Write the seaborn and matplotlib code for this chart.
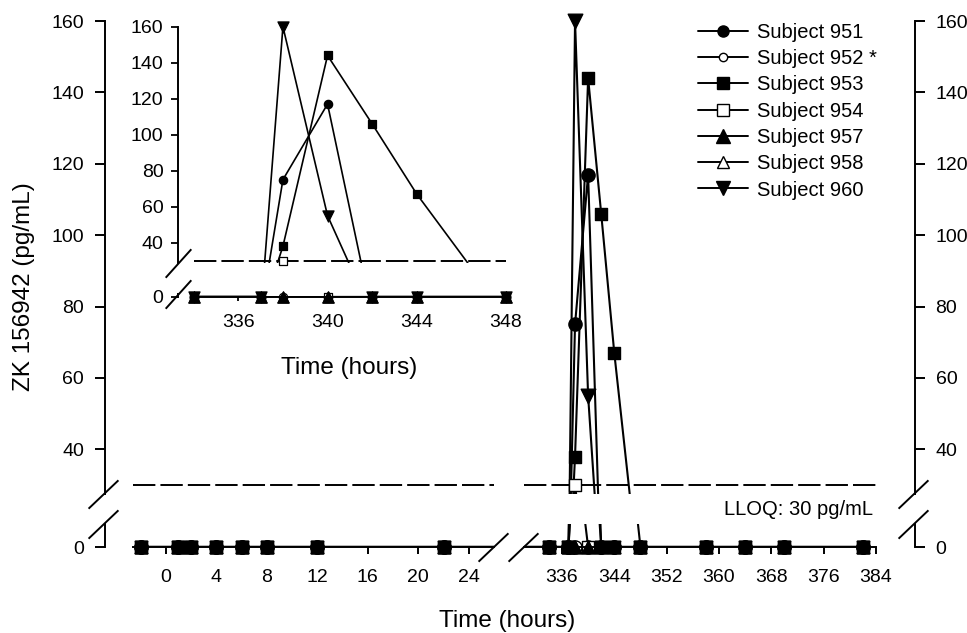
import numpy as np
import pandas as pd
import matplotlib
matplotlib.use("Agg")
import matplotlib.pyplot as plt
from matplotlib.lines import Line2D
from matplotlib.transforms import ScaledTranslation
import seaborn as sns

# --- Data ---
SUBJECTS = ["951", "952", "953", "954", "957", "958", "960"]
LABELS = ["Subject 951", "Subject 952 *", "Subject 953", "Subject 954",
          "Subject 957", "Subject 958", "Subject 960"]

TIME_P1 = [-2, 1, 2, 4, 6, 8, 12, 22]
TIME_P2 = [334, 337, 338, 340, 342, 344, 348, 358, 364, 370, 382]

# period 1: nothing above zero for anyone
CONC_P1 = [0, 0, 0, 0, 0, 0, 0, 0]
# period 2, one list per subject
CONC_951 = [0, 0, 75, 117, 0, 0, 0, 0, 0, 0, 0]
CONC_952 = [0, 0, 0, 0, 0, 0, 0, 0, 0, 0, 0]
CONC_953 = [0, 0, 38, 144, 106, 67, 0, 0, 0, 0, 0]
CONC_954 = [0, 0, 30, 0, 0, 0, 0, 0, 0, 0, 0]
CONC_957 = [0, 0, 0, 0, 0, 0, 0, 0, 0, 0, 0]
CONC_958 = [0, 0, 0, 0, 0, 0, 0, 0, 0, 0, 0]
CONC_960 = [0, 0, 160, 55, 0, 0, 0, 0, 0, 0, 0]

LLOQ = 30

P2 = dict(zip(SUBJECTS, [CONC_951, CONC_952, CONC_953, CONC_954,
                         CONC_957, CONC_958, CONC_960]))

rows = []
for s in SUBJECTS:
    for t, c in zip(TIME_P1 + TIME_P2, CONC_P1 + P2[s]):
        rows.append((s, t, c))
df = pd.DataFrame(rows, columns=["subject", "time", "conc"])

# marker shape / face per subject
MARKER = {"951": "o", "952": "o", "953": "s", "954": "s",
          "957": "^", "958": "^", "960": "v"}
FACE = {"951": "black", "952": "white", "953": "black", "954": "white",
        "957": "black", "958": "white", "960": "black"}

# --- Style ---
sns.set_style("ticks")
plt.rcParams["font.family"] = ["Liberation Sans", "DejaVu Sans"]
plt.rcParams.update({"text.color": "black", "axes.labelcolor": "black",
                     "xtick.color": "black", "ytick.color": "black",
                     "axes.edgecolor": "black"})
TICK_FS = 14
LEG_FS = 14.5
LAB_FS = 17.5

W, H = 967, 633
fig = plt.figure(figsize=(W / 100, H / 100), dpi=100)


def box(x0, y0, x1, y1):
    """pixel box (top-left origin) -> figure fraction rect"""
    return [x0 / W, 1 - y1 / H, (x1 - x0) / W, (y1 - y0) / H]


ax_lu = fig.add_axes(box(133, 21, 494, 494))
ax_ll = fig.add_axes(box(133, 524, 494, 547))
ax_ru = fig.add_axes(box(524, 21, 876, 494))
ax_rl = fig.add_axes(box(524, 524, 876, 547))
ax_iu = fig.add_axes(box(193.7, 26.7, 506, 263))
ax_il = fig.add_axes(box(193.7, 293.8, 506, 296.7))

MAIN_SIZE = {"o": 9.5, "s": 9.0, "^": 9.5, "v": 10.5}
ZERO_SIZE = {"o": 9.5, "s": 9.0, "^": 9.0, "v": 9.0}
INSET_SIZE = {"o": 6.0, "s": 6.0, "^": 8.0, "v": 8.0}


def draw_panel(ax, xlim, ylim, sizes, lw, mew):
    ax.set_facecolor("none")
    for s in SUBJECTS:
        d = df[df["subject"] == s].sort_values("time")
        sns.lineplot(x=d["time"].values, y=d["conc"].values, ax=ax,
                     color="black", linewidth=lw, estimator=None,
                     sort=False, legend=False, zorder=2)
    # markers on top, open ones first so the filled ones win on overlap
    for filled in (False, True):
        for s in SUBJECTS:
            if (FACE[s] == "black") != filled:
                continue
            d = df[df["subject"] == s]
            m = d[(d["conc"] >= ylim[0]) & (d["conc"] <= ylim[1]) &
                  (d["time"] >= xlim[0]) & (d["time"] <= xlim[1])]
            if m.empty:
                continue
            sns.scatterplot(x=m["time"].values, y=m["conc"].values, ax=ax,
                            marker=MARKER[s], s=sizes[MARKER[s]] ** 2,
                            color=FACE[s], edgecolor="black", linewidth=mew,
                            clip_on=False, zorder=4 if filled else 3,
                            legend=False)
    ax.set_xlim(xlim)
    ax.set_ylim(ylim)
    ax.set_xlabel("")
    ax.set_ylabel("")
    for sp in ax.spines.values():
        sp.set_linewidth(1.4)
        sp.set_zorder(5)


# main chart
draw_panel(ax_lu, (-2.6, 26.0), (27.5, 160), MAIN_SIZE, 1.5, 1.0)
draw_panel(ax_ll, (-2.6, 26.0), (0, 6.4), ZERO_SIZE, 1.5, 1.0)
draw_panel(ax_ru, (330.2, 384), (27.5, 160), MAIN_SIZE, 1.5, 1.0)
draw_panel(ax_rl, (330.2, 384), (0, 6.4), ZERO_SIZE, 1.5, 1.0)
# inset
draw_panel(ax_iu, (334, 348), (28.7, 160), INSET_SIZE, 1.2, 0.9)
draw_panel(ax_il, (334, 348), (0, 1.6), INSET_SIZE, 1.2, 0.9)

# LLOQ dashed line
for ax in (ax_lu, ax_ru, ax_iu):
    ax.axhline(LLOQ, color="black", lw=1.4, dashes=(11.5, 2.6), zorder=1)

ax_ru.annotate("LLOQ: 30 pg/mL", xy=(384, LLOQ), xytext=(-2, -17.3),
               textcoords="offset points", ha="right", va="center",
               fontsize=LEG_FS)

# --- axes cosmetics ---
Y_TICKS = np.arange(40, 161, 20)
LEFT_OFF = 28 * 0.72
RIGHT_OFF = 38.7 * 0.72
INSET_OFF = 16.2 * 0.72

for ax in (ax_lu, ax_ll, ax_iu, ax_il):
    ax.spines["right"].set_visible(False)
    ax.spines["top"].set_visible(False)
for ax in (ax_ru, ax_rl):
    ax.spines["left"].set_visible(False)
    ax.spines["top"].set_visible(False)
    ax.yaxis.tick_right()
for ax in (ax_lu, ax_ru, ax_iu):
    ax.spines["bottom"].set_visible(False)
    ax.tick_params(axis="x", bottom=False, labelbottom=False)
    ax.set_yticks(Y_TICKS)
for ax in (ax_ll, ax_rl, ax_il):
    ax.set_yticks([0])

for ax in (ax_lu, ax_ll):
    ax.spines["left"].set_position(("outward", LEFT_OFF))
for ax in (ax_ru, ax_rl):
    ax.spines["right"].set_position(("outward", RIGHT_OFF))
for ax in (ax_iu, ax_il):
    ax.spines["left"].set_position(("outward", INSET_OFF))

ax_ll.set_xticks(np.arange(0, 25, 4))
ax_rl.set_xticks(np.arange(336, 385, 8))
ax_il.set_xticks([336, 340, 344, 348])

for ax in (ax_lu, ax_ll, ax_ru, ax_rl):
    ax.tick_params(axis="y", direction="out", length=7, width=1.4,
                   pad=8, labelsize=TICK_FS)
    ax.tick_params(axis="x", direction="out", length=5, width=1.4,
                   pad=10.5, labelsize=TICK_FS)
for ax in (ax_iu, ax_il):
    ax.tick_params(axis="y", direction="out", length=5, width=1.3,
                   pad=5, labelsize=TICK_FS)
    ax.tick_params(axis="x", direction="out", length=3, width=1.3,
                   pad=9.5, labelsize=TICK_FS)


# --- axis-break marks ---
def brk(ax, xa, ya, dx_px, ms, w=1.0, h=0.95):
    tr = ax.transAxes + ScaledTranslation(dx_px / fig.dpi, 0,
                                          fig.dpi_scale_trans)
    ax.plot([xa], [ya], transform=tr, marker=[(-w, -h), (w, h)],
            markersize=ms, mec="black", mew=1.4, ls="none",
            clip_on=False, zorder=6)


brk(ax_lu, 0, 0, -30, 21.5)
brk(ax_ll, 0, 1, -30, 21.5)
brk(ax_ru, 1, 0, 37, 21.5)
brk(ax_rl, 1, 1, 37, 21.5)
brk(ax_ll, 1, 0, -1, 21.5)
brk(ax_rl, 0, 0, -1, 21.5)
brk(ax_iu, 0, 0, -16, 20.5, w=0.9, h=1.0)
brk(ax_il, 0, 1, -16, 20.5, w=0.9, h=1.0)

# --- labels ---
fig.text(24 / W, 1 - 287 / H, "ZK 156942 (pg/mL)", rotation=90,
         ha="center", va="center", fontsize=LAB_FS)
fig.text(507 / W, 1 - 621 / H, "Time (hours)", ha="center", va="center",
         fontsize=LAB_FS)
fig.text(349 / W, 1 - 368 / H, "Time (hours)", ha="center", va="center",
         fontsize=LAB_FS)

# --- legend ---
LEG_SIZE = {"951": 8, "952": 6, "953": 9, "954": 8,
            "957": 10, "958": 8, "960": 10}
handles = [Line2D([], [], color="black", lw=1.4, marker=MARKER[s],
                  markersize=LEG_SIZE[s], markerfacecolor=FACE[s],
                  markeredgecolor="black", markeredgewidth=1.0)
           for s in SUBJECTS]
fig.legend(handles, LABELS, loc="upper left",
           bbox_to_anchor=(698 / W, 1 - 23 / H), bbox_transform=fig.transFigure,
           frameon=False, fontsize=LEG_FS, handlelength=2.5,
           handletextpad=0.45, labelspacing=0.36, borderpad=0,
           borderaxespad=0)

fig.savefig("out.png", dpi=100)
